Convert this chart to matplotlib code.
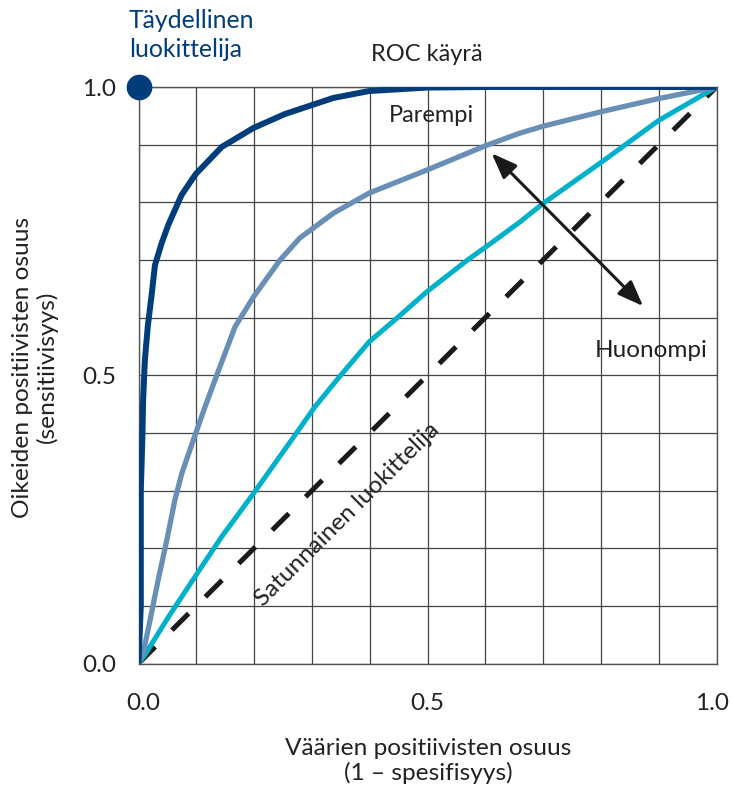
import matplotlib
matplotlib.use('Agg')
import matplotlib.pyplot as plt
from matplotlib.transforms import ScaledTranslation

plt.rcParams['font.family'] = ['Lato', 'DejaVu Sans']

# ---- data ----
perfect_x = [0.0, 0.004, 0.004, 0.0066, 0.008, 0.011, 0.016, 0.023, 0.0285, 0.040, 0.0516, 0.0747,
             0.099, 0.144, 0.199, 0.253, 0.298, 0.337, 0.399, 0.499, 0.6, 0.8, 1.0]
perfect_y = [0.0, 0.1, 0.3, 0.388, 0.457, 0.526, 0.584, 0.642, 0.691, 0.729, 0.761, 0.813,
             0.849, 0.896, 0.929, 0.953, 0.968, 0.981, 0.993, 0.999, 1.0, 1.0, 1.0]

better_x = [0.0, 0.008, 0.02, 0.034, 0.049, 0.063, 0.075, 0.095, 0.115, 0.135, 0.167, 0.199,
            0.245, 0.279, 0.337, 0.399, 0.499, 0.6, 0.66, 0.7, 0.8, 0.9, 1.0]
better_y = [0.0, 0.018, 0.075, 0.145, 0.214, 0.284, 0.33, 0.388, 0.445, 0.499, 0.584, 0.636,
            0.70, 0.738, 0.781, 0.816, 0.856, 0.898, 0.92, 0.932, 0.957, 0.98, 1.0]

worse_x = [0.0, 0.011, 0.052, 0.098, 0.144, 0.199, 0.265, 0.305, 0.349, 0.399, 0.447, 0.499,
           0.568, 0.614, 0.66, 0.7, 0.8, 0.9, 1.0]
worse_y = [0.0, 0.015, 0.081, 0.151, 0.22, 0.295, 0.388, 0.445, 0.499, 0.558, 0.599, 0.645,
           0.699, 0.732, 0.766, 0.798, 0.869, 0.942, 1.0]

random_x = [0.0, 1.0]
random_y = [0.0, 1.0]

perfect_point = (0.0, 1.0)
arrow_start = (0.611, 0.885)
arrow_end = (0.873, 0.620)

grid_positions = [0.0, 0.1, 0.2, 0.3, 0.4, 0.5, 0.6, 0.7, 0.8, 0.9, 1.0]
tick_positions = [0.0, 0.5, 1.0]
tick_labels = ['0.0', '0.5', '1.0']

NAVY = '#003d7a'
STEEL = '#6a8fb6'
TEAL = '#00b1c9'
TXT = '#222222'

fig = plt.figure(figsize=(7.32, 7.94), dpi=100)
ax = fig.add_axes([138.5 / 732, 1 - 663.5 / 794, 578 / 732, 576.5 / 794])
ax.set_xlim(0, 1)
ax.set_ylim(0, 1)

ax.set_xticks(grid_positions, minor=True)
ax.set_yticks(grid_positions, minor=True)
ax.set_xticks(tick_positions)
ax.set_yticks(tick_positions)
ax.set_xticklabels(tick_labels)
ax.set_yticklabels(tick_labels)
ax.tick_params(which='both', length=0, labelsize=17.5, labelcolor=TXT)
ax.tick_params(axis='x', pad=21)
ax.tick_params(axis='y', pad=16)
ax.grid(which='both', color='#444444', lw=0.9, zorder=0)
ax.set_axisbelow(True)
for s in ax.spines.values():
    s.set_color('#555555')
    s.set_linewidth(1.0)

xt = ax.get_xticklabels()
xt[0].set_transform(xt[0].get_transform() + ScaledTranslation(5 / 100, 0, fig.dpi_scale_trans))
xt[-1].set_transform(xt[-1].get_transform() + ScaledTranslation(-4 / 100, 0, fig.dpi_scale_trans))

ax.plot(random_x, random_y, color='#1a1a1a', lw=3.6, linestyle=(0, (4.72, 4.72)), zorder=2)
ax.plot(worse_x, worse_y, color=TEAL, lw=3.6, zorder=3, solid_capstyle='butt', solid_joinstyle='round')
ax.plot(better_x, better_y, color=STEEL, lw=3.8, zorder=3, solid_capstyle='butt', solid_joinstyle='round')
ax.plot(perfect_x, perfect_y, color=NAVY, lw=4.3, zorder=4, solid_capstyle='butt', solid_joinstyle='round')
ax.plot([perfect_point[0]], [perfect_point[1]], 'o', color=NAVY, ms=17.5, clip_on=False, zorder=5)

ax.annotate('', xy=arrow_start, xytext=arrow_end,
            arrowprops=dict(arrowstyle='<|-|>,head_length=0.6,head_width=0.23', color='#1a1a1a',
                            lw=2.2, mutation_scale=26, shrinkA=0, shrinkB=0),
            zorder=6)

ax.text(0.499, 1.045, 'ROC käyrä', ha='center', va='baseline', fontsize=17, color=TXT)
ax.text(0.506, 0.939, 'Parempi', ha='center', va='baseline', fontsize=17, color=TXT)
ax.text(0.8875, 0.532, 'Huonompi', ha='center', va='baseline', fontsize=17.5, color=TXT)
ax.text(0.361, 0.258, 'Satunnainen luokittelija', ha='center', va='center',
        rotation=44.8, rotation_mode='anchor', fontsize=17.5, color=TXT)

fig.text(129 / 732, 1 - 28 / 794, 'Täydellinen', ha='left', va='baseline', fontsize=17.8, color=NAVY)
fig.text(129 / 732, 1 - 57 / 794, 'luokittelija', ha='left', va='baseline', fontsize=17.8, color=NAVY)

fig.text(428 / 732, 1 - 761 / 794, 'Väärien positiivisten osuus\n(1 – spesifisyys)',
         ha='center', va='center', fontsize=17.6, color=TXT, linespacing=1.15)
fig.text(35 / 732, 1 - 367 / 794, 'Oikeiden positiivisten osuus\n(sensitiivisyys)',
         ha='center', va='center', rotation=90, fontsize=17.6, color=TXT, linespacing=1.15)

fig.savefig('out.png', dpi=100)
